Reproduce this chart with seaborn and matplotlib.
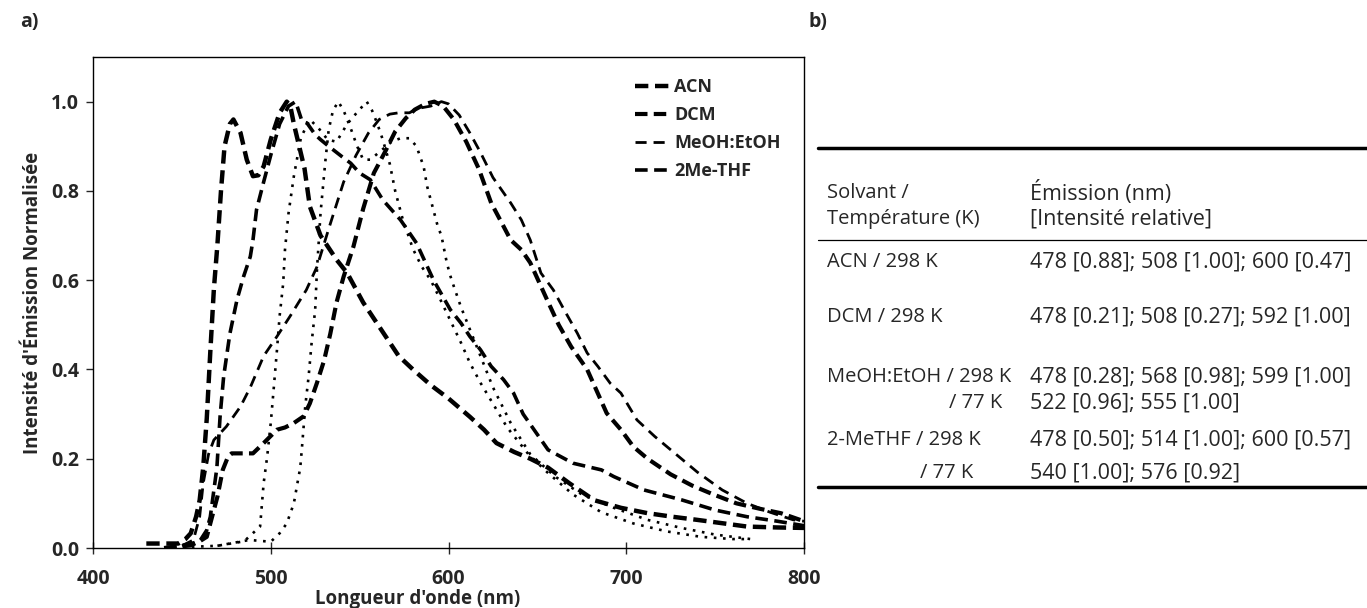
import numpy as np
import pandas as pd
import matplotlib
matplotlib.use('Agg')
import matplotlib.pyplot as plt
import seaborn as sns
from matplotlib.lines import Line2D

# ---------------- données ----------------
series = ["ACN", "DCM", "MeOH:EtOH", "2Me-THF", "MeOH:EtOH 77 K", "2Me-THF 77 K"]
legende = ["ACN", "DCM", "MeOH:EtOH", "2Me-THF"]

acn_x = [430, 440, 448, 452, 455, 458, 460, 462, 464, 466, 468, 470, 472, 474, 477, 479,
         483, 486.5, 490, 493, 496, 500, 505, 509, 511, 513, 516, 519, 522, 528, 537, 543,
         552, 562, 572, 580, 590, 600, 612, 620, 627, 637, 646, 656, 668, 682, 697, 712,
         726, 740, 755, 768, 785, 800]
acn_y = [0.01, 0.01, 0.01, 0.02, 0.033, 0.07, 0.107, 0.18, 0.29, 0.44, 0.58, 0.68, 0.80,
         0.90, 0.95, 0.96, 0.93, 0.87, 0.833, 0.835, 0.855, 0.915, 0.975, 1.0, 0.99, 0.95,
         0.90, 0.85, 0.765, 0.70, 0.646, 0.616, 0.55, 0.49, 0.43, 0.40, 0.365, 0.335, 0.294,
         0.265, 0.235, 0.215, 0.20, 0.18, 0.145, 0.107, 0.09, 0.078, 0.07, 0.063, 0.055,
         0.048, 0.046, 0.045]

dcm_x = [440, 450, 456, 460, 464, 467, 470, 473, 476, 478, 481, 485, 490, 496, 503.5, 508,
         513, 518.5, 522, 526, 530, 533.5, 537, 541, 546.5, 552, 558, 564.5, 570, 576, 581,
         587, 592, 597, 603, 610, 617, 624, 630, 635, 641, 646, 655, 662, 669, 678, 689, 697,
         704, 712, 725, 737, 749, 762, 775, 787, 800]
dcm_y = [0.0, 0.005, 0.01, 0.015, 0.025, 0.07, 0.115, 0.175, 0.205, 0.212, 0.212, 0.212,
         0.212, 0.235, 0.265, 0.27, 0.28, 0.295, 0.324, 0.37, 0.42, 0.48, 0.55, 0.608, 0.675,
         0.76, 0.84, 0.889, 0.933, 0.963, 0.982, 0.995, 1.0, 0.99, 0.96, 0.91, 0.85, 0.773,
         0.728, 0.69, 0.668, 0.639, 0.56, 0.50, 0.451, 0.40, 0.302, 0.265, 0.227, 0.20,
         0.165, 0.14, 0.12, 0.10, 0.088, 0.078, 0.06]

meoh_x = [440, 450, 456.5, 460, 462, 465, 468, 475, 483, 488.5, 496, 503.5, 511, 520, 526,
          533, 541, 548, 555, 561, 567, 572, 578, 583, 590, 596, 600, 606, 612, 618, 625,
          635, 641, 646, 652, 659, 665, 672.5, 678, 684, 691, 697, 706, 716, 728, 740, 754,
          768, 781, 794, 800]
meoh_y = [0.0, 0.005, 0.018, 0.07, 0.145, 0.21, 0.242, 0.272, 0.317, 0.36, 0.43, 0.474,
          0.52, 0.578, 0.63, 0.72, 0.82, 0.88, 0.93, 0.96, 0.972, 0.975, 0.975, 0.985, 0.99,
          1.0, 0.995, 0.97, 0.93, 0.886, 0.83, 0.773, 0.735, 0.69, 0.616, 0.578, 0.534,
          0.481, 0.437, 0.407, 0.369, 0.347, 0.287, 0.25, 0.21, 0.17, 0.13, 0.10, 0.08,
          0.063, 0.06]

mthf_x = [440, 455, 460, 464, 466, 469.7, 471.5, 473.5, 477, 481, 484.7, 488.5, 490, 492,
          496, 500, 505, 510, 514, 517.6, 520.4, 525, 528, 532.6, 540, 545, 550, 556, 563,
          573, 582, 591.6, 601, 607, 612, 618, 624, 631, 636.6, 642, 656, 670, 686, 693,
          710, 731, 750, 768, 785, 800]
mthf_y = [0.0, 0.005, 0.015, 0.04, 0.07, 0.18, 0.295, 0.384, 0.48, 0.556, 0.608, 0.653,
          0.69, 0.758, 0.82, 0.88, 0.95, 0.99, 1.0, 0.956, 0.952, 0.926, 0.915, 0.90, 0.877,
          0.862, 0.84, 0.825, 0.78, 0.735, 0.683, 0.60, 0.534, 0.504, 0.474, 0.444, 0.407,
          0.377, 0.347, 0.30, 0.22, 0.19, 0.175, 0.16, 0.13, 0.108, 0.085, 0.07, 0.06, 0.05]

meoh77_x = [440, 470, 485, 494, 496, 498, 500, 501.6, 503.5, 505, 507, 508, 510, 513, 517,
            522, 527, 532, 537, 540, 543, 549, 554, 557, 560, 563, 567, 570, 574, 580, 585,
            590, 595, 601, 607, 612, 618, 624, 633, 645, 656, 670, 686, 704, 723, 742, 760,
            770]
meoh77_y = [0.0, 0.005, 0.015, 0.048, 0.145, 0.205, 0.28, 0.354, 0.444, 0.52, 0.593, 0.668,
            0.75, 0.833, 0.92, 0.96, 0.94, 0.915, 0.91, 0.93, 0.95, 0.978, 1.0, 0.98, 0.95,
            0.915, 0.86, 0.80, 0.74, 0.67, 0.63, 0.60, 0.56, 0.51, 0.46, 0.415, 0.37, 0.33,
            0.27, 0.21, 0.168, 0.12, 0.08, 0.055, 0.037, 0.025, 0.02, 0.02]

mthf77_x = [470, 488, 500, 505, 509, 513, 515, 516.6, 517.6, 519.4, 521.3, 523, 525, 526,
            528, 530.7, 532.6, 535, 538, 541, 545, 548.6, 552, 556, 562, 568, 573, 578, 582,
            584, 586, 588, 591, 594, 596, 599, 601, 603, 607, 612, 618, 625, 635, 646, 660,
            675, 693, 712, 731, 750, 770]
mthf77_y = [0.005, 0.018, 0.014, 0.033, 0.055, 0.10, 0.145, 0.18, 0.227, 0.317, 0.384, 0.46,
            0.534, 0.623, 0.75, 0.866, 0.937, 0.98, 1.0, 0.98, 0.94, 0.90, 0.87, 0.87, 0.89,
            0.91, 0.918, 0.918, 0.90, 0.877, 0.855, 0.81, 0.765, 0.72, 0.70, 0.64, 0.61,
            0.586, 0.54, 0.49, 0.43, 0.36, 0.28, 0.21, 0.16, 0.12, 0.09, 0.063, 0.045, 0.03,
            0.02]

# tableau b)
tab_entete = [["Solvant /", "Température (K)"], ["Émission (nm)", "[Intensité relative]"]]
tab_solvant = ["ACN / 298 K", "DCM / 298 K", "MeOH:EtOH / 298 K", "/ 77 K",
               "2-MeTHF / 298 K", "/ 77 K"]
tab_emission = ["478 [0.88]; 508 [1.00]; 600 [0.47]",
                "478 [0.21]; 508 [0.27]; 592 [1.00]",
                "478 [0.28]; 568 [0.98]; 599 [1.00]",
                "522 [0.96]; 555 [1.00]",
                "478 [0.50]; 514 [1.00]; 600 [0.57]",
                "540 [1.00]; 576 [0.92]"]

# ---------------- mise en forme ----------------
xs = [acn_x, dcm_x, meoh_x, mthf_x, meoh77_x, mthf77_x]
ys = [acn_y, dcm_y, meoh_y, mthf_y, meoh77_y, mthf77_y]
df = pd.concat([pd.DataFrame({"lambda": x, "I": y, "serie": s})
                for s, x, y in zip(series, xs, ys)], ignore_index=True)

tirets = {"ACN": (3, 1.5), "DCM": (3, 1.5), "MeOH:EtOH": (4, 2.5), "2Me-THF": (3.5, 1.8),
          "MeOH:EtOH 77 K": (1, 2.5), "2Me-THF 77 K": (1, 2.5)}
epaisseurs = {"ACN": 3.2, "DCM": 3.0, "MeOH:EtOH": 2.0, "2Me-THF": 2.6,
              "MeOH:EtOH 77 K": 1.9, "2Me-THF 77 K": 1.9}

sns.set_style("white")
plt.rcParams['font.family'] = ['Open Sans', 'DejaVu Sans']

W, H = 1367, 608
fig = plt.figure(figsize=(W / 100, H / 100), dpi=100)
ax = fig.add_axes([93 / W, 1 - 548 / H, (804 - 93) / W, (548 - 57) / H])

sns.lineplot(data=df, x="lambda", y="I", hue="serie", style="serie", size="serie",
             hue_order=series, style_order=series, size_order=series,
             palette={s: "black" for s in series}, dashes=tirets, sizes=epaisseurs,
             sort=False, estimator=None, legend=False, ax=ax)

ax.set_xlim(400, 800)
ax.set_ylim(0, 1.1)
ax.set_xticks([400, 500, 600, 700, 800])
ax.set_yticks([0.0, 0.2, 0.4, 0.6, 0.8, 1.0])
ax.set_yticklabels([f"{v:.1f}" for v in ax.get_yticks()])
for sp in ax.spines.values():
    sp.set_color("black")
    sp.set_linewidth(1.0)
ax.tick_params(axis="x", direction="inout", length=8, width=1, labelsize=14, pad=11)
ax.tick_params(axis="y", direction="out", length=5, width=1, labelsize=14, pad=5)
ax.tick_params(left=True, bottom=True)
for lab in ax.get_xticklabels() + ax.get_yticklabels():
    lab.set_fontweight("bold")
ax.set_xlabel("Longueur d'onde (nm)", fontsize=13.5, fontweight="bold")
ax.xaxis.set_label_coords((418 - 93) / 711, -(589 - 548) / 491)
ax.set_ylabel("Intensité d'Émission Normalisée", fontsize=13.5, fontweight="bold", labelpad=6)

poignees = [Line2D([], [], color="black", lw=epaisseurs[s], dashes=tirets[s]) for s in legende]
ax.legend(poignees, legende, loc="upper right", frameon=False,
          handlelength=2.0, handletextpad=0.15, labelspacing=0.55,
          bbox_to_anchor=(0.99, 0.99), prop={"weight": "bold", "size": 13})

# étiquettes des panneaux
fig.text(20 / W, 1 - 22 / H, "a)", fontsize=14, fontweight="bold", va="center")
fig.text(808 / W, 1 - 22 / H, "b)", fontsize=14, fontweight="bold", va="center")

# ---------------- tableau b) ----------------
def fx(px):
    return px / W

def fy(py):
    return 1 - py / H

for py, lw in [(148, 2.5), (240, 0.9), (487, 2.5)]:
    fig.add_artist(Line2D([fx(818), fx(1367)], [fy(py), fy(py)], color="black", lw=lw))

col1, col2 = 827, 1030
t1, t2 = 14.5, 15.5
for j, ligne in enumerate(tab_entete[0]):
    fig.text(fx(col1), fy(193 + 26 * j), ligne, fontsize=t1, va="center")
for j, ligne in enumerate(tab_entete[1]):
    fig.text(fx(col2), fy(193 + 26 * j), ligne, fontsize=t2, va="center")

rang_y = [262, 317, 377, 403, 440, 473]
for k, (sol, em, py) in enumerate(zip(tab_solvant, tab_emission, rang_y)):
    if sol.startswith("/"):
        xr = 1002 if k == 3 else 973
        fig.text(fx(xr), fy(py), sol, fontsize=t1, va="center", ha="right")
    else:
        fig.text(fx(col1), fy(py), sol, fontsize=t1, va="center")
    fig.text(fx(col2), fy(py), em, fontsize=t2, va="center")

plt.savefig("out.png", dpi=100)
plt.close()
